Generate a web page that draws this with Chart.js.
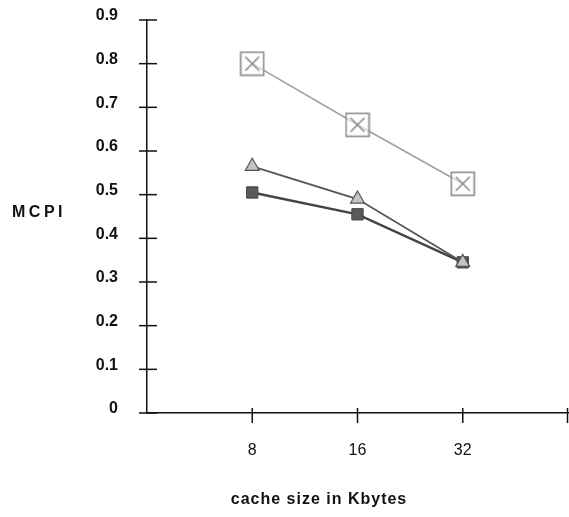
<!DOCTYPE html>
<html lang="en">
<head>
<meta charset="utf-8">
<script src="https://cdn.jsdelivr.net/npm/chart.js"></script>
<style>
  html, body { margin: 0; padding: 0; background: #fff; }
  #wrap { width: 569px; height: 517px; }
</style>
</head>
<body>
<div id="wrap"><canvas id="chartCanvas"></canvas></div>
<script>
  // cache sizes (Kbytes) sit at positions 1..3 of a 0..4 axis
  const cacheSizes = ['8', '16', '32'];
  const seriesBoxX = [0.80, 0.66, 0.525];
  const seriesTriangle = [0.565, 0.49, 0.345];
  const seriesSquare = [0.505, 0.455, 0.345];
  const yTicks = [0, 0.1, 0.2, 0.3, 0.4, 0.5, 0.6, 0.7, 0.8, 0.9];

  const FONT = '"Liberation Sans", Arial, sans-serif';

  function toPoints(values) {
    return values.map((v, i) => ({ x: i + 1, y: v }));
  }

  // open square with a cross inside
  function boxXMarker() {
    const c = document.createElement('canvas');
    c.width = 26; c.height = 26;
    const g = c.getContext('2d');
    g.fillStyle = 'rgba(255,255,255,0.6)';
    g.fillRect(1, 1, 24, 24);
    g.strokeStyle = '#8a8a8a';
    g.lineWidth = 1.6;
    g.strokeRect(1.5, 1.5, 23, 23);
    g.beginPath();
    g.moveTo(6, 6); g.lineTo(20, 20);
    g.moveTo(20, 6); g.lineTo(6, 20);
    g.stroke();
    return c;
  }

  // tick marks crossing both axes, plus the horizontal MCPI label
  const axisDecor = {
    id: 'axisDecor',
    afterDraw(chart) {
      const ctx = chart.ctx;
      const xs = chart.scales.x, ys = chart.scales.y;
      const area = chart.chartArea;
      ctx.save();
      ctx.strokeStyle = '#111';
      ctx.lineWidth = 1.5;
      yTicks.forEach(v => {
        const py = ys.getPixelForValue(v);
        ctx.beginPath();
        ctx.moveTo(area.left - 8, py);
        ctx.lineTo(area.left + 10, py);
        ctx.stroke();
      });
      for (let i = 1; i <= 4; i++) {
        const px = Math.min(xs.getPixelForValue(i), chart.width - 1.5);
        ctx.beginPath();
        ctx.moveTo(px, area.bottom - 5);
        ctx.lineTo(px, area.bottom + 10);
        ctx.stroke();
      }
      ctx.fillStyle = '#111';
      ctx.font = 'bold 16px ' + FONT;
      ctx.textAlign = 'left';
      ctx.textBaseline = 'middle';
      if ('letterSpacing' in ctx) ctx.letterSpacing = '3.5px';
      ctx.fillText('MCPI', 12, 213);
      if ('letterSpacing' in ctx) ctx.letterSpacing = '1px';
      ctx.textAlign = 'center';
      ctx.fillText('cache size in Kbytes', 319, 500);
      ctx.restore();
    }
  };

  const ctx = document.getElementById('chartCanvas').getContext('2d');
  const chart = new Chart(ctx, {
    type: 'line',
    data: {
      datasets: [
        {
          label: 'boxed X',
          data: toPoints(seriesBoxX),
          borderColor: '#a0a0a0',
          borderWidth: 1.6,
          pointStyle: boxXMarker(),
          pointRadius: 12
        },
        {
          label: 'triangle',
          data: toPoints(seriesTriangle),
          borderColor: '#555',
          borderWidth: 1.8,
          pointStyle: 'triangle',
          pointRadius: 8,
          pointBackgroundColor: '#c4c4c4',
          pointBorderColor: '#555',
          pointBorderWidth: 1.2
        },
        {
          label: 'square',
          data: toPoints(seriesSquare),
          borderColor: '#444',
          borderWidth: 2.4,
          pointStyle: 'rect',
          pointRadius: 8,
          pointBackgroundColor: '#5a5a5a',
          pointBorderColor: '#444',
          pointBorderWidth: 1
        }
      ]
    },
    options: {
      responsive: true,
      maintainAspectRatio: false,
      animation: false,
      layout: { autoPadding: false, padding: { top: 20, right: 1, left: 0, bottom: 0 } },
      plugins: {
        legend: { display: false },
        tooltip: { enabled: false }
      },
      scales: {
        x: {
          type: 'linear',
          min: 0,
          max: 4,
          afterFit: s => { s.height = 104; s.paddingLeft = 0; s.paddingRight = 0; },
          afterBuildTicks: s => { s.ticks = [1, 2, 3].map(v => ({ value: v })); },
          grid: { display: false, drawTicks: false },
          border: { color: '#111', width: 1.5 },
          ticks: {
            padding: 28,
            color: '#111',
            font: { family: FONT, size: 16 },
            callback: v => cacheSizes[v - 1] || ''
          }
        },
        y: {
          min: 0,
          max: 0.9,
          afterFit: s => { s.width = 147; s.paddingTop = 0; s.paddingBottom = 0; },
          afterBuildTicks: s => { s.ticks = yTicks.map(v => ({ value: v })); },
          grid: { display: false, drawTicks: false },
          border: { color: '#111', width: 1.5 },
          ticks: {
            padding: 29,
            labelOffset: -4,
            color: '#111',
            font: { family: FONT, size: 16, weight: 'bold' },
            callback: v => v === 0 ? '0' : v.toFixed(1)
          }
        }
      }
    },
    plugins: [axisDecor]
  });
</script>
</body>
</html>
